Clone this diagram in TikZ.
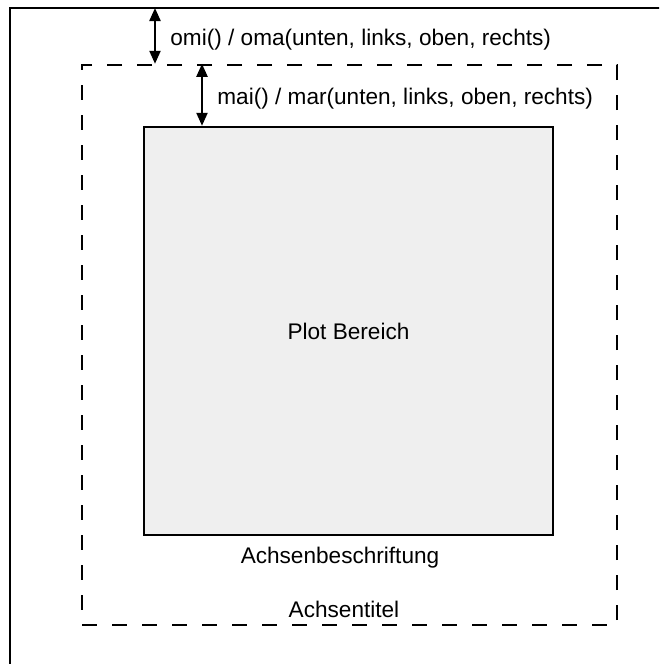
\documentclass[tikz,border=0pt]{standalone}
\usepackage{fontspec}
\setmainfont{Liberation Sans}
\usetikzlibrary{arrows.meta}
\definecolor{plotfill}{RGB}{239,239,239}
\begin{document}
\begin{tikzpicture}[x=0.5pt,y=-0.5pt,
  frame/.style={draw=black,line width=1.2pt},
  dashbox/.style={draw=black,line width=1.2pt,dash pattern=on 7.5pt off 7.5pt,
    minimum width=267.5pt,minimum height=280pt,inner sep=0pt},
  plotbox/.style={draw=black,line width=1.2pt,fill=plotfill,
    minimum width=204.5pt,minimum height=204pt,inner sep=0pt,
    font=\fontsize{11.3}{13}\selectfont},
  dim/.style={line width=1.1pt,{Triangle[length=6.5pt,width=5.5pt]}-{Triangle[length=6.5pt,width=5.5pt]}},
  lbl/.style={font=\fontsize{11.3}{13}\selectfont,inner sep=0pt}]
\clip (0,0) rectangle (659,664);
\fill[white] (0,0) rectangle (659,664);
% outer frame (device region), extends beyond the visible area
\draw[frame] (10,8) rectangle (720,720);
% figure region (dashed)
\node[dashbox] (fig) at (349.5,345) {};
% plot region
\node[plotbox] (plot) at (348.5,331) {Plot Bereich};
% dimension arrows
\coordinate (a1) at (155,8);
\coordinate (a2) at (202,65);
\draw[dim] (a1) -- (a1 |- fig.north);
\draw[dim] (a2 |- fig.north) -- (a2 |- plot.north);
% labels
\node[lbl,anchor=base west] (omi) at (170,45) {omi() / oma(unten, links, oben, rechts)};
\node[lbl,anchor=base west] (mai) at (217,104) {mai() / mar(unten, links, oben, rechts)};
\node[lbl,anchor=base] (achsb) at (340,563) {Achsenbeschriftung};
\node[lbl,anchor=base] (achst) at (344,617) {Achsentitel};
\end{tikzpicture}
\end{document}
